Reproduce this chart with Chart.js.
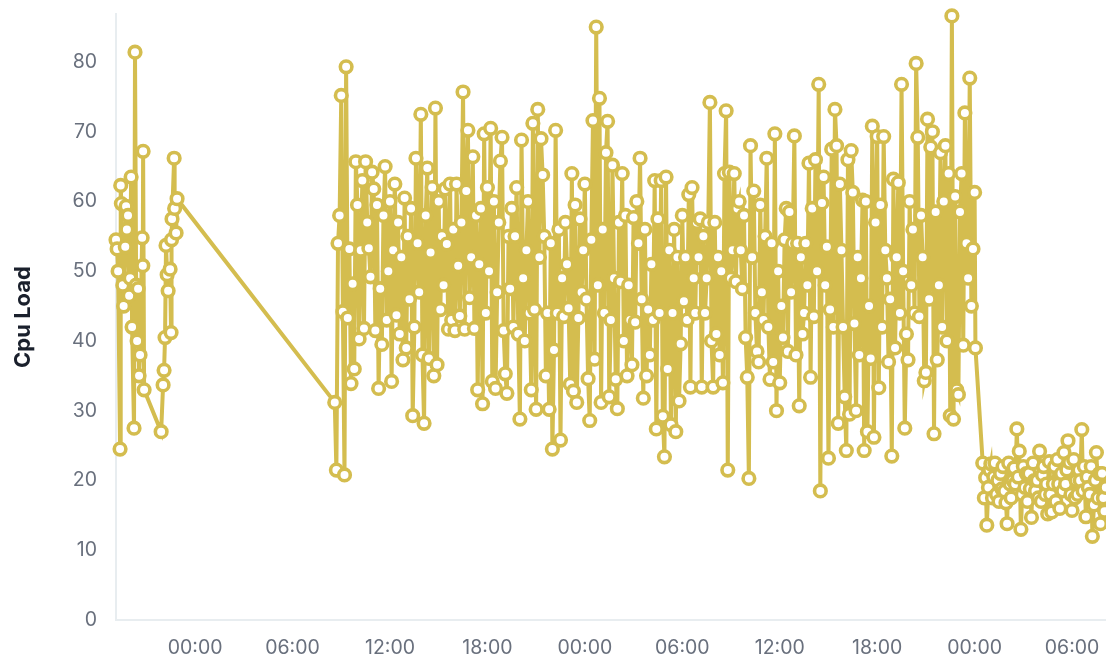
<!DOCTYPE html>
<html lang="en">
<head>
  <meta charset="UTF-8" />
  <title>Cpu Load</title>
  <script src="https://cdn.jsdelivr.net/npm/chart.js"></script>
  <style>
    html, body { margin: 0; padding: 0; background: #fff; }
    #chart-container { width: 1106px; height: 656px; }
  </style>
</head>
<body>
  <div id="chart-container">
    <canvas id="cpuChart" width="1106" height="656"></canvas>
  </div>

  <script>
    // hours counted from the first midnight on the axis
    const xTickHours = [0, 6, 12, 18, 24, 30, 36, 42, 48, 54];
    const xTickLabels = ['00:00', '06:00', '12:00', '18:00', '00:00', '06:00', '12:00', '18:00', '00:00', '06:00'];
    const yTicks = [0, 10, 20, 30, 40, 50, 60, 70, 80];

    const times = [
      -4.87, -4.8, -4.74, -4.62, -4.58, -4.54, -4.45, -4.4, -4.3, -4.25, -4.2, -4.13, -4.06, -4.0,
      -3.94, -3.88, -3.76, -3.7, -3.63, -3.57, -3.51, -3.45, -3.39, -3.26, -3.22, -3.2, -3.14,
      -2.09, -1.97, -1.91, -1.85, -1.79, -1.72, -1.66, -1.54, -1.48, -1.45, -1.42, -1.29, -1.26, -1.17, -1.11,
      8.6, 8.7, 8.8, 8.9,
      9.0, 9.1, 9.2, 9.3, 9.4, 9.5, 9.6, 9.7, 9.8, 9.9,
      10.0, 10.1, 10.2, 10.3, 10.4, 10.5, 10.6, 10.7, 10.8, 10.9,
      11.0, 11.1, 11.2, 11.3, 11.4, 11.5, 11.6, 11.7, 11.8, 11.9,
      12.0, 12.1, 12.2, 12.3, 12.4, 12.5, 12.6, 12.7, 12.8, 12.9,
      13.0, 13.1, 13.2, 13.3, 13.4, 13.5, 13.6, 13.7, 13.8, 13.9,
      14.0, 14.1, 14.2, 14.3, 14.4, 14.5, 14.6, 14.7, 14.8, 14.9,
      15.0, 15.1, 15.2, 15.3, 15.4, 15.5, 15.6, 15.7, 15.8, 15.9,
      16.0, 16.1, 16.2, 16.3, 16.4, 16.5, 16.6, 16.7, 16.8, 16.9,
      17.0, 17.1, 17.2, 17.3, 17.4, 17.5, 17.6, 17.7, 17.8, 17.9,
      18.0, 18.1, 18.2, 18.3, 18.4, 18.5, 18.6, 18.7, 18.8, 18.9,
      19.0, 19.1, 19.2, 19.3, 19.4, 19.5, 19.6, 19.7, 19.8, 19.9,
      20.0, 20.1, 20.2, 20.3, 20.4, 20.5, 20.6, 20.7, 20.8, 20.9,
      21.0, 21.1, 21.2, 21.3, 21.4, 21.5, 21.6, 21.7, 21.8, 21.9,
      22.0, 22.1, 22.2, 22.3, 22.4, 22.5, 22.6, 22.7, 22.8, 22.9,
      23.0, 23.1, 23.2, 23.3, 23.4, 23.5, 23.6, 23.7, 23.8, 23.9,
      24.0, 24.1, 24.2, 24.3, 24.4, 24.5, 24.6, 24.7, 24.8, 24.9,
      25.0, 25.1, 25.2, 25.3, 25.4, 25.5, 25.6, 25.7, 25.8, 25.9,
      26.0, 26.1, 26.2, 26.3, 26.4, 26.5, 26.6, 26.7, 26.8, 26.9,
      27.0, 27.1, 27.2, 27.3, 27.4, 27.5, 27.6, 27.7, 27.8, 27.9,
      28.0, 28.1, 28.2, 28.3, 28.4, 28.5, 28.6, 28.7, 28.8, 28.9,
      29.0, 29.1, 29.2, 29.3, 29.4, 29.5, 29.6, 29.7, 29.8, 29.9,
      30.0, 30.1, 30.2, 30.3, 30.4, 30.5, 30.6, 30.7, 30.8, 30.9,
      31.0, 31.1, 31.2, 31.3, 31.4, 31.5, 31.6, 31.7, 31.8, 31.9,
      32.0, 32.1, 32.2, 32.3, 32.4, 32.5, 32.6, 32.7, 32.8, 32.9,
      33.0, 33.1, 33.2, 33.3, 33.4, 33.5, 33.6, 33.7, 33.8, 33.9,
      34.0, 34.1, 34.2, 34.3, 34.4, 34.5, 34.6, 34.7, 34.8, 34.9,
      35.0, 35.1, 35.2, 35.3, 35.4, 35.5, 35.6, 35.7, 35.8, 35.9,
      36.0, 36.1, 36.2, 36.3, 36.4, 36.5, 36.6, 36.7, 36.8, 36.9,
      37.0, 37.1, 37.2, 37.3, 37.4, 37.5, 37.6, 37.7, 37.8, 37.9,
      38.0, 38.1, 38.2, 38.3, 38.4, 38.5, 38.6, 38.7, 38.8, 38.9,
      39.0, 39.1, 39.2, 39.3, 39.4, 39.5, 39.6, 39.7, 39.8, 39.9,
      40.0, 40.1, 40.2, 40.3, 40.4, 40.5, 40.6, 40.7, 40.8, 40.9,
      41.0, 41.1, 41.2, 41.3, 41.4, 41.5, 41.6, 41.7, 41.8, 41.9,
      42.0, 42.1, 42.2, 42.3, 42.4, 42.5, 42.6, 42.7, 42.8, 42.9,
      43.0, 43.1, 43.2, 43.3, 43.4, 43.5, 43.6, 43.7, 43.8, 43.9,
      44.0, 44.1, 44.2, 44.3, 44.4, 44.5, 44.6, 44.7, 44.8, 44.9,
      45.0, 45.1, 45.2, 45.3, 45.4, 45.5, 45.6, 45.7, 45.8, 45.9,
      46.0, 46.1, 46.2, 46.3, 46.4, 46.5, 46.6, 46.7, 46.8, 46.9,
      47.0, 47.1, 47.2, 47.3, 47.4, 47.5, 47.6, 47.7, 47.8, 47.9,
      48.0, 48.05,
      48.5, 48.6, 48.68, 48.75, 48.85, 48.93,
      49.0, 49.1, 49.18, 49.25, 49.35, 49.43, 49.5, 49.6, 49.68, 49.75, 49.85, 49.93,
      50.0, 50.1, 50.18, 50.25, 50.35, 50.43, 50.5, 50.6, 50.68, 50.75, 50.85, 50.93,
      51.0, 51.1, 51.18, 51.25, 51.35, 51.43, 51.5, 51.6, 51.68, 51.75, 51.85, 51.93,
      52.0, 52.1, 52.18, 52.25, 52.35, 52.43, 52.5, 52.6, 52.68, 52.75, 52.85, 52.93,
      53.0, 53.1, 53.18, 53.25, 53.35, 53.43, 53.5, 53.6, 53.68, 53.75, 53.85, 53.93,
      54.0, 54.1, 54.18, 54.25, 54.35, 54.43, 54.5, 54.6, 54.68, 54.75, 54.85, 54.93,
      55.0, 55.1, 55.18, 55.25, 55.35, 55.43, 55.5, 55.6, 55.68, 55.75, 55.85, 55.93,
      56.0, 56.08
    ];

    const cpuLoad = [
      54.5, 53.2, 50, 24.5, 62.3, 59.7, 48, 45, 53.5, 59.3, 56, 58, 46.5, 49,
      63.5, 42, 27.5, 81.4, 48, 40, 47.5, 35, 38, 54.8, 50.8, 67.2, 33,
      27, 33.7, 35.8, 40.5, 53.7, 49.5, 47.2, 50.3, 41.2, 54.5, 57.5, 66.2, 59, 55.5, 60.4,
      31.2, 21.5, 54, 58,
      75.2, 44.2, 20.8, 79.3, 43.3, 53.2, 33.9, 48.2, 36, 65.7,
      59.5, 40.3, 53, 63, 41.8, 65.7, 57, 53.3, 49.2, 64.2,
      61.8, 41.5, 59.5, 33.2, 47.5, 39.5, 58, 65, 43, 50,
      60, 34.2, 53, 62.5, 43.7, 57, 41, 52, 37.3, 60.5,
      39, 55, 46, 59, 29.3, 42, 66.2, 54, 47, 72.5,
      38, 28.2, 58, 64.8, 37.5, 52.7, 62, 35, 73.4, 36.6,
      60, 44.5, 55, 48, 61.8, 53.9, 41.7, 62.5, 43, 56,
      41.5, 62.5, 50.8, 43.6, 57, 75.7, 41.7, 61.5, 70.2, 46.2,
      52, 66.4, 41.8, 58, 33, 51, 59, 31, 69.7, 44,
      62, 50, 70.5, 34.2, 60, 33.2, 47, 57, 65.8, 69.2,
      41.5, 35.3, 32.5, 55, 47.5, 59, 42, 55, 62, 41,
      28.8, 68.8, 49, 40, 53, 60, 44, 33, 71.2, 44.5,
      30.2, 73.2, 52, 69, 63.8, 55, 35, 44, 30.2, 54,
      24.5, 38.7, 70.2, 44, 56, 25.8, 49, 43.5, 57, 51,
      44.7, 33.8, 64, 32.8, 59.5, 31.2, 43.3, 57.5, 47, 53,
      62.5, 46, 34.6, 28.6, 54.5, 71.6, 37.4, 85, 48, 74.8,
      31.2, 56, 44, 67, 71.5, 32, 43, 65.2, 49, 34.5,
      30.3, 57, 48.5, 64, 40, 58, 35, 48, 43, 36.6,
      57.7, 42.7, 60, 54, 66.2, 46, 31.8, 56, 35, 44.5,
      38, 51, 43, 63, 27.4, 57.5, 44, 63, 29.2, 23.4,
      63.5, 36, 53, 28, 44, 56, 27, 52, 31.4, 39.6,
      58, 45.7, 52, 43, 61, 33.4, 62, 49, 44, 57,
      52, 57.5, 33.4, 55, 44, 49, 57, 74.2, 40, 33.4,
      57, 41, 52, 38, 50, 34, 64, 73, 21.5, 64.2,
      49, 53, 64, 48.5, 59, 60, 53, 47.5, 58, 40.5,
      34.8, 20.3, 68, 52, 61.5, 44, 38.5, 37, 59.5, 47,
      43, 55, 66.2, 42, 34.5, 54, 37, 69.7, 30, 50,
      34, 45, 40.5, 54.5, 59, 38.5, 58.5, 47, 54, 69.4,
      38, 54, 30.7, 52, 41, 44, 54, 48, 65.5, 34.8,
      59, 43.5, 66, 50, 76.8, 18.5, 59.8, 63.5, 48, 53.5,
      23.2, 44.5, 67.5, 42, 73.2, 68, 28.2, 62.5, 53, 42,
      32, 24.3, 66, 29.5, 67.3, 61.3, 42.5, 30, 52, 38,
      49, 60.2, 24.3, 60, 27, 45, 37.5, 70.8, 26.2, 57,
      69.3, 33.3, 59.5, 42, 69.3, 53, 49, 37, 46, 23.5,
      63.2, 39, 52, 62.7, 44, 76.8, 50, 27.5, 41, 37.3,
      60, 48, 56, 44, 79.8, 69.2, 43.5, 58, 52, 34.3,
      35.5, 71.8, 46, 67.8, 70, 26.7, 58.5, 37.3, 48, 67,
      42, 60, 68, 40, 64, 29.3, 86.6, 28.8, 60.7, 33,
      32.3, 58.5, 64, 39.4, 72.7, 54, 49, 77.7, 45, 53.2,
      61.3, 39,
      22.5, 17.5, 20.4, 13.6, 19, 21.5,
      22.4, 17.5, 20.5, 22.5, 18, 20, 17, 21, 18.8, 22, 18.5, 16.8,
      13.8, 22.5, 19.5, 17.5, 20, 21.8, 19.5, 27.4, 20.5, 24.2, 13, 18,
      22, 19, 21, 17, 21, 18.8, 14.7, 22.5, 20, 18.5, 20, 17.5,
      24.2, 17, 20.8, 22, 18, 19.5, 15.2, 22.7, 18, 15.5, 19.5, 22,
      17, 23, 19.5, 16, 21, 18.5, 24, 19.5, 21.5, 25.7, 22.6, 18,
      15.7, 23, 17.5, 20, 18, 21.5, 20, 27.3, 18.5, 22, 14.8, 20.5,
      19, 18, 22, 12, 16.5, 20, 24, 17.5, 21, 13.8, 21, 17.5,
      15.6, 19
    ];

    const gold = '#d4bd4f';

    new Chart(document.getElementById('cpuChart').getContext('2d'), {
      type: 'line',
      data: {
        datasets: [{
          label: 'Cpu Load',
          data: times.map((t, i) => ({ x: t, y: cpuLoad[i] })),
          borderColor: gold,
          borderWidth: 4,
          tension: 0,
          pointRadius: 5.8,
          pointBorderWidth: 3.6,
          pointBorderColor: gold,
          pointBackgroundColor: '#ffffff',
          clip: false
        }]
      },
      options: {
        responsive: false,
        animation: false,
        layout: { autoPadding: false, padding: { top: 14, right: 0, left: 0, bottom: 0 } },
        plugins: { legend: { display: false } },
        scales: {
          x: {
            type: 'linear',
            min: -4.87,
            max: 56.09,
            grid: { display: false, drawTicks: false },
            border: { color: '#e8edf0', width: 2 },
            afterBuildTicks: axis => { axis.ticks = xTickHours.map(value => ({ value })); },
            afterFit: axis => {
              axis.height = 36;
              axis.paddingLeft = 0;
              axis.paddingRight = 0;
            },
            ticks: {
              autoSkip: false,
              maxRotation: 0,
              padding: 16,
              color: '#69707d',
              font: { family: 'Inter', size: 19.5 },
              callback: value => xTickLabels[xTickHours.indexOf(value)]
            }
          },
          y: {
            min: 0,
            max: 86.88,
            grid: { display: false, drawTicks: false },
            border: { color: '#e8edf0', width: 2 },
            afterBuildTicks: axis => { axis.ticks = yTicks.map(value => ({ value })); },
            afterFit: axis => {
              axis.width = 116;
              axis.paddingTop = 0;
              axis.paddingBottom = 0;
            },
            title: {
              display: true,
              text: 'Cpu Load',
              color: '#1a202c',
              font: { family: 'Inter', size: 22, weight: 'bold' },
              padding: { top: 10, bottom: 0 }
            },
            ticks: {
              padding: 19,
              color: '#69707d',
              font: { family: 'Inter', size: 19.5 }
            }
          }
        }
      }
    });
  </script>
</body>
</html>
